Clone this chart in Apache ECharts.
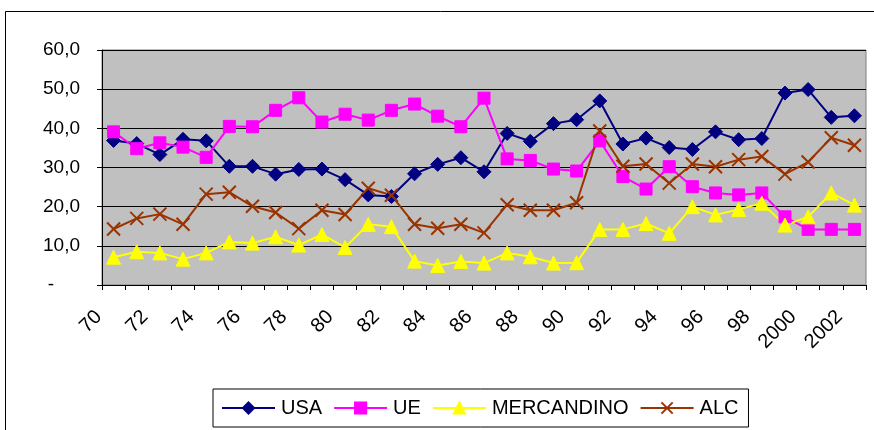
<!DOCTYPE html>
<html>
<head>
<meta charset="utf-8">
<script src="https://cdn.jsdelivr.net/npm/echarts@6/dist/echarts.min.js"></script>
<style>
  html, body { margin: 0; padding: 0; background: #fff; }
  #chart { width: 874px; height: 430px; }
</style>
</head>
<body>
<div id="chart"></div>
<script>
// Years 1970–2002, one category per year
const years = ['70','71','72','73','74','75','76','77','78','79',
  '80','81','82','83','84','85','86','87','88','89',
  '90','91','92','93','94','95','96','97','98','99',
  '2000','2001','2002'];

// Share by destination (%)
const usa = [36.9,36.1,33.3,37.2,36.8,30.3,30.3,28.3,29.5,29.6,
  26.9,23.0,22.6,28.4,30.8,32.5,28.9,38.7,36.7,41.2,
  42.2,47.0,36.0,37.5,35.1,34.6,39.1,37.1,37.4,49.0,
  49.9,42.8,43.2];
const ue = [39.1,34.8,36.3,35.2,32.6,40.5,40.4,44.6,47.8,41.6,
  43.6,42.1,44.6,46.2,43.1,40.4,47.7,32.2,31.8,29.6,
  29.1,36.8,27.7,24.5,30.2,25.1,23.5,23.0,23.5,17.4,
  14.2,14.2,14.2];
const mercandino = [7.1,8.5,8.2,6.6,8.2,11.0,10.7,12.3,10.2,12.9,
  9.6,15.5,14.9,6.1,5.0,6.0,5.6,8.2,7.2,5.6,
  5.7,14.2,14.2,15.7,13.2,20.0,17.9,19.3,20.9,15.3,
  17.4,23.5,20.4];
const alc = [14.3,17.0,18.1,15.5,23.2,23.7,20.1,18.5,14.4,19.1,
  18.0,24.7,22.9,15.5,14.5,15.5,13.3,20.5,19.1,19.1,
  21.0,39.3,30.3,30.9,26.0,30.9,30.2,32.0,32.8,28.3,
  31.4,37.6,35.7];

const seriesNames = ['USA', 'UE', 'MERCANDINO', 'ALC'];
const yTicks = { min: 0, max: 60, step: 10 };

const FONT = 'Liberation Sans, Arial, sans-serif';
const crossPath = 'path://M0,0L10,10M10,0L0,10';

function lineSeries(name, data, color, symbol, size) {
  return {
    name: name,
    type: 'line',
    data: data,
    symbol: symbol,
    symbolSize: size,
    showAllSymbol: true,
    lineStyle: { color: color, width: 2 },
    itemStyle: { color: color, borderColor: color, borderWidth: symbol === crossPath ? 2 : 1 },
    emphasis: { disabled: true },
    z: 3
  };
}

const chart = echarts.init(document.getElementById('chart'), null, { renderer: 'canvas' });

chart.setOption({
  animation: false,
  backgroundColor: '#ffffff',
  textStyle: { fontFamily: FONT },
  grid: {
    left: 102, right: 8, top: 50, bottom: 145,
    show: true,
    backgroundColor: '#C0C0C0',
    borderColor: '#808080',
    borderWidth: 1,
    containLabel: false,
    outerBoundsMode: 'none'
  },
  legend: {
    data: seriesNames,
    left: 213,
    top: 389,
    orient: 'horizontal',
    itemWidth: 53,
    itemHeight: 14,
    itemGap: 11,
    padding: [9, 10, 9, 8],
    borderColor: '#000000',
    borderWidth: 1,
    backgroundColor: '#ffffff',
    textStyle: { fontFamily: FONT, fontSize: 20, color: '#000000', padding: [0, 0, 0, 1] }
  },
  xAxis: {
    type: 'category',
    data: years,
    boundaryGap: true,
    axisLine: { lineStyle: { color: '#000000', width: 1 } },
    axisTick: { show: true, interval: 0, length: 5, lineStyle: { color: '#000000' } },
    axisLabel: {
      interval: 1,
      rotate: 45,
      margin: 14,
      padding: [0, 21, 0, 0],
      fontFamily: FONT,
      fontSize: 20,
      color: '#000000'
    },
    splitLine: { show: false }
  },
  yAxis: {
    type: 'value',
    min: yTicks.min,
    max: yTicks.max,
    interval: yTicks.step,
    axisLine: { show: true, lineStyle: { color: '#000000', width: 1 } },
    axisTick: { show: true, length: 5, lineStyle: { color: '#000000' } },
    splitLine: { show: true, lineStyle: { color: '#000000', width: 1 } },
    axisLabel: {
      margin: 22,
      fontFamily: FONT,
      fontSize: 19,
      color: '#000000',
      formatter: function (v) {
        return v === 0 ? '{d|-}' : v.toFixed(1).replace('.', ',');
      },
      rich: {
        d: { fontFamily: FONT, fontSize: 19, color: '#000000', padding: [0, 26, 0, 0] }
      }
    }
  },
  series: [
    lineSeries('USA', usa, '#000080', 'diamond', 14),
    lineSeries('UE', ue, '#FF00FF', 'rect', 12),
    lineSeries('MERCANDINO', mercandino, '#FFFF00', 'triangle', 14),
    lineSeries('ALC', alc, '#993300', crossPath, 13)
  ],
  graphic: [
    {
      type: 'rect',
      shape: { x: 5.5, y: 11.5, width: 900, height: 450 },
      style: { fill: 'none', stroke: '#000000', lineWidth: 1 },
      silent: true,
      z: -1
    }
  ]
});
</script>
</body>
</html>
